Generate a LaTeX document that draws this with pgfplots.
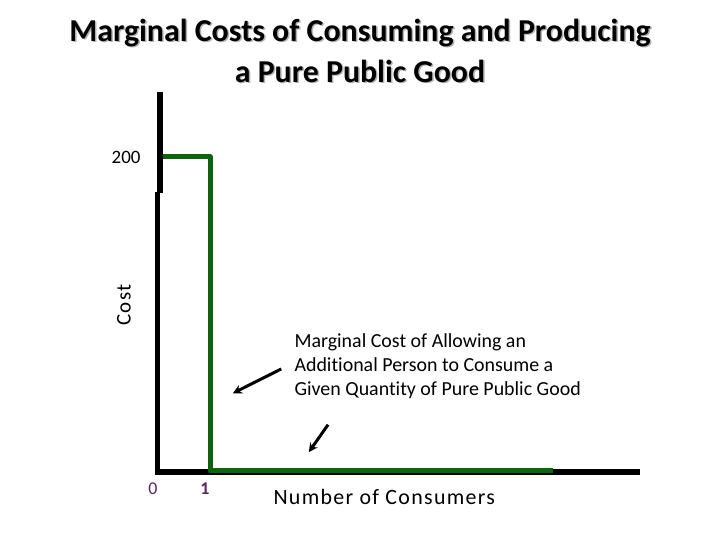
\documentclass[border=0pt]{standalone}
\usepackage{pgfplots}
\pgfplotsset{compat=1.18}
\usepackage{fontspec}
\setmainfont[Ligatures=NoCommon]{Carlito}
\usetikzlibrary{arrows.meta}
\definecolor{mcgreen}{RGB}{14,100,14}
\definecolor{tickpurple}{RGB}{88,36,104}
\begin{document}
\begin{tikzpicture}[x=1bp,y=1bp]
\path (0,0) rectangle (720,540);
% title with light shadow
\foreach \dx/\col in {1.5/black!30, 0/black} {
  \node[font=\fontsize{32}{34}\selectfont\bfseries, text=\col] at (360+\dx,507-\dx) {Marginal Costs of Consuming and Producing};
  \node[font=\fontsize{32}{34}\selectfont\bfseries, text=\col] at (360+\dx,469-\dx) {a Pure Public Good};
}
\begin{axis}[
    at={(158bp,69bp)}, anchor=south west,
    scale only axis, width=482bp, height=379bp,
    xmin=0, xmax=9.27, ymin=0, ymax=241.4,
    clip=false,
    axis line style={draw=none},
    major tick length=0pt,
    /pgf/number format/assume math mode=true,
    xtick={0,1}, ytick={200},
    xticklabels={0,\textbf{1}},
    xticklabel style={font=\fontsize{18}{20}\selectfont, text=tickpurple, yshift=-8bp, xshift=-5bp},
    yticklabel style={font=\fontsize{19}{21}\selectfont, xshift=-14bp},
    every axis plot/.append style={line join=round},
  ]
% axes drawn as black strokes
\addplot[black, line width=5.5bp] coordinates {(0.035,241.4) (0.035,177)};
\addplot[black, line width=5.5bp] coordinates {(-0.01,178) (-0.01,-0.9)};
\addplot[black, line width=5.5bp] coordinates {(-0.06,-0.5) (9.27,-0.5)};
% marginal cost curve
\addplot[mcgreen, line width=5bp] coordinates {(0.1,200) (1,200) (1,0) (7.6,0)};
% arrows
\draw[black, line width=3bp, -{Stealth[length=9bp,width=9bp]}] (axis cs:2.37,65) -- (axis cs:1.44,49.5);
\draw[black, line width=3bp, -{Stealth[length=9bp,width=9bp]}] (axis cs:3.27,29.5) -- (axis cs:2.9,12);
\end{axis}
\node[rotate=90, font=\fontsize{21}{23}\selectfont\addfontfeature{LetterSpace=6}] at (124,235) {Cost};
\node[anchor=west, align=left, font=\fontsize{20}{24}\selectfont] at (291,174) {Marginal Cost of Allowing an\\Additional Person to Consume a\\Given Quantity of Pure Public Good};
\node[anchor=west, font=\fontsize{22}{24}\selectfont\addfontfeature{LetterSpace=6}] at (270,43) {Number of Consumers};
\end{tikzpicture}
\end{document}
